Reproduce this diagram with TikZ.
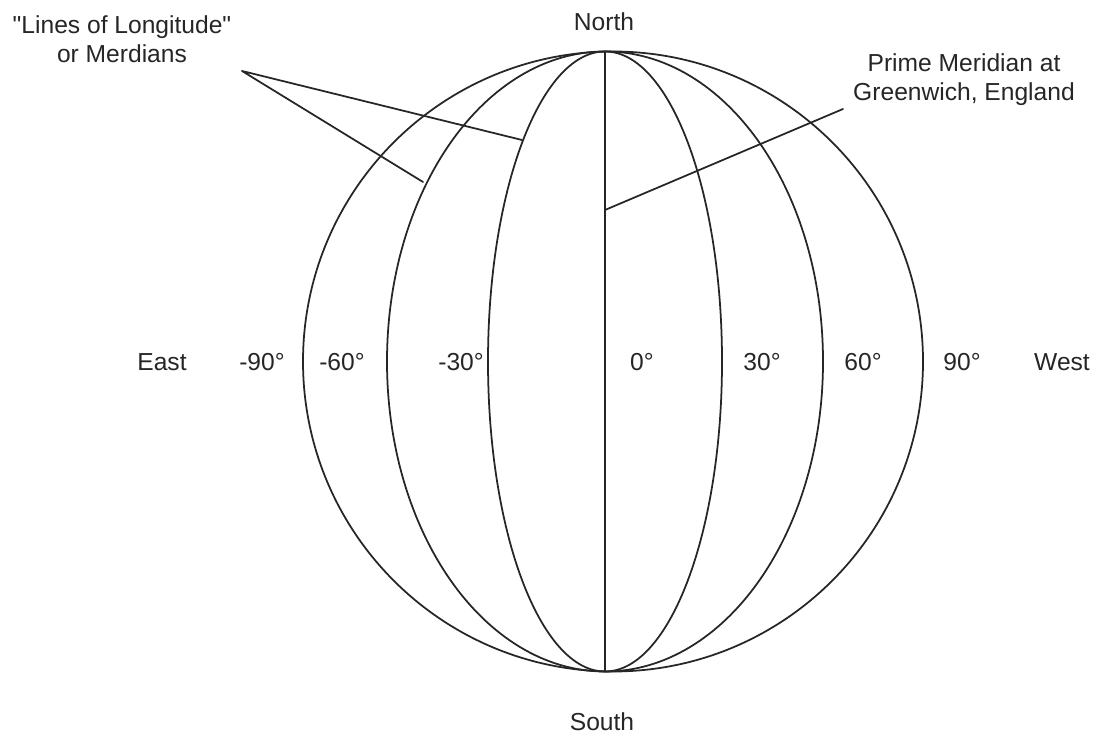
\documentclass[tikz,border=0pt]{standalone}
\usepackage{fontspec}
\setmainfont{Liberation Sans}
\usepackage{tikz}
\usetikzlibrary{arrows.meta}
\tikzset{
  every picture/.style={line join=round, line cap=round, >=Stealth},
  mapline/.style={line width=1pt, black!85},
  caption/.style={font=\fontsize{14}{16.5}\selectfont, text=black!85, inner sep=0pt, align=center},
}

\begin{document}
\begin{tikzpicture}
\useasboundingbox (0,0) rectangle (22.000,14.700);
% globe and meridians
\draw[mapline] (12.260,7.470) circle[radius=6.200];
\draw[mapline] (12.100,7.470) ellipse[x radius=4.360, y radius=6.200];
\draw[mapline] (12.100,7.470) ellipse[x radius=2.340, y radius=6.200];
\coordinate (np) at (12.100,13.670);
\coordinate (sp) at (12.100,1.270);
\draw[mapline] (np) -- (sp);
% poles and directions
\node[caption] (north) at (12.080,14.260) {North};
\node[caption] (south) at (12.040,0.260) {South};
\node[caption] (east) at (3.240,7.460) {East};
\node[caption] (west) at (21.240,7.460) {West};
% degree labels
\node[caption] (m90) at (5.240,7.460) {-90°};
\node[caption] (m60) at (6.840,7.460) {-60°};
\node[caption] (m30) at (9.220,7.460) {-30°};
\node[caption] (d0) at (12.840,7.460) {0°};
\node[caption] (p30) at (15.240,7.460) {30°};
\node[caption] (p60) at (17.260,7.460) {60°};
\node[caption] (p90) at (19.240,7.460) {90°};
% callouts
\node[caption] (longitude) at (2.440,13.920) {\textquotedbl Lines of Longitude\textquotedbl\\or Merdians};
\node[caption] (prime) at (19.280,13.100) {Prime Meridian at\\Greenwich, England};
\coordinate (apex) at (4.840,13.280);
\coordinate (onthirty) at (10.440,11.900);
\coordinate (onsixty) at (8.460,11.060);
\coordinate (onzero) at (12.100,10.500);
\coordinate (primetip) at (16.860,12.520);
\draw[mapline] (onthirty) -- (apex) -- (onsixty);
\draw[mapline] (onzero) -- (primetip);
\end{tikzpicture}
\end{document}
